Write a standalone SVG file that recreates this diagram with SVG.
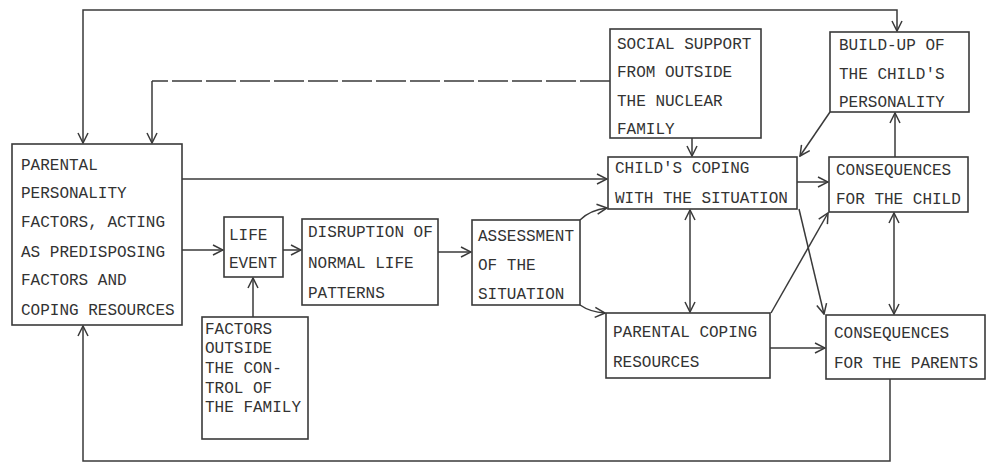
<svg xmlns="http://www.w3.org/2000/svg" width="987" height="462" viewBox="0 0 987 462">
<defs>
<marker id="ah" viewBox="0 0 12 12" refX="11" refY="6" markerWidth="12" markerHeight="12" markerUnits="userSpaceOnUse" orient="auto-start-reverse">
<path d="M1,1 L11,6 L1,11" fill="none" stroke="#3a3a3a" stroke-width="1.5"/>
</marker>
<style>
.box{fill:#fff;stroke:#3a3a3a;stroke-width:1.6}
.t{font-family:"Liberation Mono","DejaVu Sans Mono",monospace;font-size:16px;fill:#333}
.c{fill:none;stroke:#3a3a3a;stroke-width:1.5}
.a{marker-end:url(#ah)}
.d{marker-start:url(#ah);marker-end:url(#ah)}
</style>
</defs>
<rect width="987" height="462" fill="#fff"/>
<g id="connectors">
<path class="c d" d="M83,143 L83,10 L897,10 L897,31"/>
<path class="c" d="M610,81 L152,81" stroke-dasharray="30 4"/>
<path class="c a" d="M152,81 L152,143"/>
<path class="c a" d="M182,179 L607,179"/>
<path class="c a" d="M182,250 L223,250"/>
<path class="c a" d="M283,250 L301,250"/>
<path class="c a" d="M438,252 L471,252"/>
<path class="c a" d="M580,220 Q590,210 607,208"/>
<path class="c a" d="M580,305 Q590,312 605,313"/>
<path class="c a" d="M253,317 L253,278"/>
<path class="c a" d="M890,379 L890,461 L83,461 L83,326"/>
<path class="c a" d="M692,138 L692,156"/>
<path class="c a" d="M830,112 L800,156"/>
<path class="c a" d="M797,182 L828,182"/>
<path class="c a" d="M895,157 L895,113"/>
<path class="c d" d="M690,210 L690,312"/>
<path class="c d" d="M894,213 L894,314"/>
<path class="c a" d="M799,209 L824,314"/>
<path class="c a" d="M771,313 L828,213"/>
<path class="c a" d="M770,348 L825,348"/>
</g>
<g id="parental-personality">
<rect class="box" x="12" y="144" width="170" height="181"/>
<text class="t" x="21" y="170">PARENTAL</text>
<text class="t" x="21" y="198">PERSONALITY</text>
<text class="t" x="21" y="227">FACTORS, ACTING</text>
<text class="t" x="21" y="257">AS PREDISPOSING</text>
<text class="t" x="21" y="285">FACTORS AND</text>
<text class="t" x="21" y="315">COPING RESOURCES</text>
</g>
<g id="social-support">
<rect class="box" x="610" y="29" width="151" height="109"/>
<text class="t" x="617" y="49">SOCIAL SUPPORT</text>
<text class="t" x="617" y="77">FROM OUTSIDE</text>
<text class="t" x="617" y="106">THE NUCLEAR</text>
<text class="t" x="617" y="134">FAMILY</text>
</g>
<g id="build-up">
<rect class="box" x="830" y="32" width="139" height="80"/>
<text class="t" x="839" y="50">BUILD-UP OF</text>
<text class="t" x="839" y="79">THE CHILD'S</text>
<text class="t" x="839" y="107">PERSONALITY</text>
</g>
<g id="child-coping">
<rect class="box" x="608" y="157" width="189" height="52"/>
<text class="t" x="615" y="173">CHILD'S COPING</text>
<text class="t" x="615" y="203">WITH THE SITUATION</text>
</g>
<g id="consequences-child">
<rect class="box" x="829" y="157" width="139" height="55"/>
<text class="t" x="836" y="175">CONSEQUENCES</text>
<text class="t" x="836" y="204">FOR THE CHILD</text>
</g>
<g id="life-event">
<rect class="box" x="224" y="217" width="59" height="60"/>
<text class="t" x="229" y="240">LIFE</text>
<text class="t" x="229" y="268">EVENT</text>
</g>
<g id="disruption">
<rect class="box" x="302" y="219" width="136" height="86"/>
<text class="t" x="308" y="237">DISRUPTION OF</text>
<text class="t" x="308" y="268">NORMAL LIFE</text>
<text class="t" x="308" y="298">PATTERNS</text>
</g>
<g id="assessment">
<rect class="box" x="472" y="220" width="108" height="85"/>
<text class="t" x="478" y="241">ASSESSMENT</text>
<text class="t" x="478" y="270">OF THE</text>
<text class="t" x="478" y="299">SITUATION</text>
</g>
<g id="factors-outside">
<rect class="box" x="202" y="317" width="106" height="122"/>
<text class="t" x="205" y="334">FACTORS</text>
<text class="t" x="205" y="353">OUTSIDE</text>
<text class="t" x="205" y="373">THE CON-</text>
<text class="t" x="205" y="393">TROL OF</text>
<text class="t" x="205" y="412">THE FAMILY</text>
</g>
<g id="parental-coping">
<rect class="box" x="606" y="313" width="164" height="65"/>
<text class="t" x="613" y="337">PARENTAL COPING</text>
<text class="t" x="613" y="367">RESOURCES</text>
</g>
<g id="consequences-parents">
<rect class="box" x="826" y="315" width="159" height="64"/>
<text class="t" x="834" y="338">CONSEQUENCES</text>
<text class="t" x="834" y="368">FOR THE PARENTS</text>
</g>
</svg>
